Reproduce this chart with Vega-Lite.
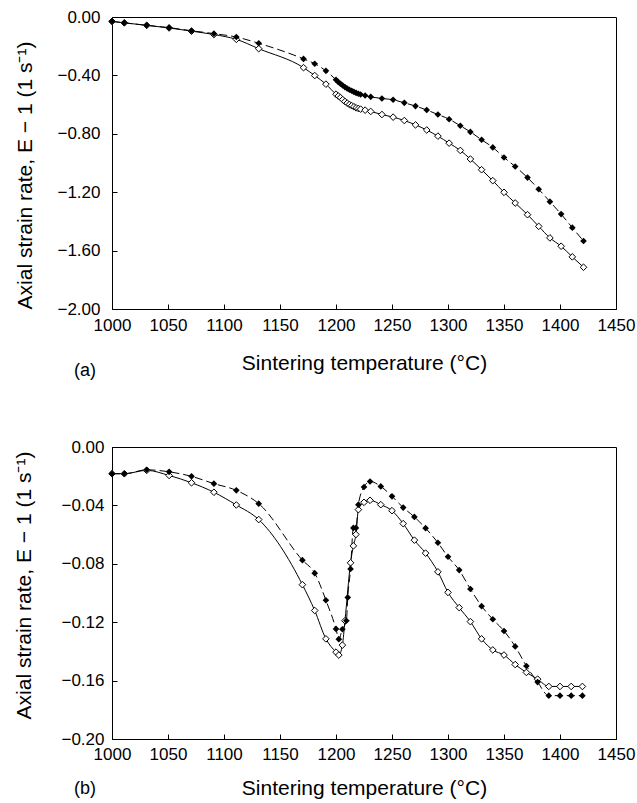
{
  "$schema": "https://vega.github.io/schema/vega-lite/v6.json",
  "padding": {"left": 13, "top": 7, "right": 0, "bottom": 0},
  "background": "white",
  "spacing": 56,
  "config": {
    "font": "Liberation Sans",
    "view": {"stroke": "black", "strokeWidth": 1},
    "axis": {
      "grid": false,
      "domainColor": "black",
      "tickColor": "black",
      "tickSize": -5,
      "labelFontSize": 17,
      "labelColor": "black",
      "titleFontSize": 21,
      "titleFontWeight": "normal",
      "titleColor": "black"
    },
    "title": {"fontSize": 18, "fontWeight": "normal", "color": "black"}
  },
  "datasets": {
    "a": [
      {"T": 1000, "v": -0.03, "s": "filled"},
      {"T": 1011, "v": -0.04, "s": "filled"},
      {"T": 1031, "v": -0.057, "s": "filled"},
      {"T": 1051, "v": -0.073, "s": "filled"},
      {"T": 1071, "v": -0.094, "s": "filled"},
      {"T": 1091, "v": -0.114, "s": "filled"},
      {"T": 1111, "v": -0.137, "s": "filled"},
      {"T": 1131, "v": -0.18, "s": "filled"},
      {"T": 1171, "v": -0.287, "s": "filled"},
      {"T": 1181, "v": -0.32, "s": "filled"},
      {"T": 1191, "v": -0.369, "s": "filled"},
      {"T": 1200, "v": -0.43, "s": "filled"},
      {"T": 1202, "v": -0.445, "s": "filled"},
      {"T": 1204, "v": -0.457, "s": "filled"},
      {"T": 1206, "v": -0.469, "s": "filled"},
      {"T": 1208, "v": -0.48, "s": "filled"},
      {"T": 1210, "v": -0.49, "s": "filled"},
      {"T": 1212, "v": -0.498, "s": "filled"},
      {"T": 1214, "v": -0.505, "s": "filled"},
      {"T": 1216, "v": -0.513, "s": "filled"},
      {"T": 1218, "v": -0.52, "s": "filled"},
      {"T": 1220, "v": -0.526, "s": "filled"},
      {"T": 1222, "v": -0.531, "s": "filled"},
      {"T": 1226, "v": -0.538, "s": "filled"},
      {"T": 1231, "v": -0.547, "s": "filled"},
      {"T": 1241, "v": -0.558, "s": "filled"},
      {"T": 1251, "v": -0.567, "s": "filled"},
      {"T": 1261, "v": -0.588, "s": "filled"},
      {"T": 1271, "v": -0.61, "s": "filled"},
      {"T": 1281, "v": -0.637, "s": "filled"},
      {"T": 1291, "v": -0.668, "s": "filled"},
      {"T": 1301, "v": -0.7, "s": "filled"},
      {"T": 1311, "v": -0.745, "s": "filled"},
      {"T": 1320, "v": -0.787, "s": "filled"},
      {"T": 1330, "v": -0.841, "s": "filled"},
      {"T": 1340, "v": -0.893, "s": "filled"},
      {"T": 1350, "v": -0.962, "s": "filled"},
      {"T": 1360, "v": -1.024, "s": "filled"},
      {"T": 1371, "v": -1.1, "s": "filled"},
      {"T": 1381, "v": -1.18, "s": "filled"},
      {"T": 1391, "v": -1.265, "s": "filled"},
      {"T": 1401, "v": -1.35, "s": "filled"},
      {"T": 1411, "v": -1.443, "s": "filled"},
      {"T": 1421, "v": -1.534, "s": "filled"},
      {"T": 1000, "v": -0.03, "s": "open"},
      {"T": 1011, "v": -0.04, "s": "open"},
      {"T": 1031, "v": -0.057, "s": "open"},
      {"T": 1051, "v": -0.075, "s": "open"},
      {"T": 1071, "v": -0.097, "s": "open"},
      {"T": 1091, "v": -0.12, "s": "open"},
      {"T": 1111, "v": -0.153, "s": "open"},
      {"T": 1131, "v": -0.217, "s": "open"},
      {"T": 1171, "v": -0.347, "s": "open"},
      {"T": 1181, "v": -0.401, "s": "open"},
      {"T": 1191, "v": -0.46, "s": "open"},
      {"T": 1200, "v": -0.529, "s": "open"},
      {"T": 1202, "v": -0.541, "s": "open"},
      {"T": 1204, "v": -0.552, "s": "open"},
      {"T": 1206, "v": -0.566, "s": "open"},
      {"T": 1208, "v": -0.579, "s": "open"},
      {"T": 1210, "v": -0.59, "s": "open"},
      {"T": 1212, "v": -0.599, "s": "open"},
      {"T": 1214, "v": -0.607, "s": "open"},
      {"T": 1216, "v": -0.615, "s": "open"},
      {"T": 1218, "v": -0.622, "s": "open"},
      {"T": 1220, "v": -0.627, "s": "open"},
      {"T": 1222, "v": -0.631, "s": "open"},
      {"T": 1226, "v": -0.638, "s": "open"},
      {"T": 1231, "v": -0.647, "s": "open"},
      {"T": 1241, "v": -0.668, "s": "open"},
      {"T": 1251, "v": -0.686, "s": "open"},
      {"T": 1261, "v": -0.709, "s": "open"},
      {"T": 1271, "v": -0.739, "s": "open"},
      {"T": 1281, "v": -0.774, "s": "open"},
      {"T": 1291, "v": -0.816, "s": "open"},
      {"T": 1301, "v": -0.864, "s": "open"},
      {"T": 1311, "v": -0.914, "s": "open"},
      {"T": 1320, "v": -0.973, "s": "open"},
      {"T": 1330, "v": -1.046, "s": "open"},
      {"T": 1340, "v": -1.121, "s": "open"},
      {"T": 1350, "v": -1.201, "s": "open"},
      {"T": 1360, "v": -1.274, "s": "open"},
      {"T": 1371, "v": -1.354, "s": "open"},
      {"T": 1381, "v": -1.434, "s": "open"},
      {"T": 1391, "v": -1.513, "s": "open"},
      {"T": 1401, "v": -1.57, "s": "open"},
      {"T": 1411, "v": -1.643, "s": "open"},
      {"T": 1421, "v": -1.714, "s": "open"}
    ],
    "b": [
      {"T": 1000, "v": -0.0183, "s": "filled"},
      {"T": 1011, "v": -0.0183, "s": "filled"},
      {"T": 1031, "v": -0.0156, "s": "filled"},
      {"T": 1051, "v": -0.017, "s": "filled"},
      {"T": 1071, "v": -0.0201, "s": "filled"},
      {"T": 1091, "v": -0.0251, "s": "filled"},
      {"T": 1111, "v": -0.0297, "s": "filled"},
      {"T": 1131, "v": -0.0388, "s": "filled"},
      {"T": 1170, "v": -0.0775, "s": "filled"},
      {"T": 1181, "v": -0.0864, "s": "filled"},
      {"T": 1191, "v": -0.105, "s": "filled"},
      {"T": 1200, "v": -0.1246, "s": "filled"},
      {"T": 1202.5, "v": -0.1316, "s": "filled"},
      {"T": 1205.7, "v": -0.1248, "s": "filled"},
      {"T": 1209.3, "v": -0.119, "s": "filled"},
      {"T": 1210.5, "v": -0.103, "s": "filled"},
      {"T": 1213, "v": -0.0836, "s": "filled"},
      {"T": 1215.5, "v": -0.0554, "s": "filled"},
      {"T": 1217.8, "v": -0.0554, "s": "filled"},
      {"T": 1220, "v": -0.0395, "s": "filled"},
      {"T": 1225, "v": -0.0274, "s": "filled"},
      {"T": 1230.4, "v": -0.0236, "s": "filled"},
      {"T": 1240, "v": -0.027, "s": "filled"},
      {"T": 1250, "v": -0.0338, "s": "filled"},
      {"T": 1260, "v": -0.0415, "s": "filled"},
      {"T": 1270, "v": -0.0479, "s": "filled"},
      {"T": 1280, "v": -0.0556, "s": "filled"},
      {"T": 1291, "v": -0.0656, "s": "filled"},
      {"T": 1300, "v": -0.0752, "s": "filled"},
      {"T": 1310, "v": -0.0843, "s": "filled"},
      {"T": 1320, "v": -0.0973, "s": "filled"},
      {"T": 1330, "v": -0.109, "s": "filled"},
      {"T": 1340, "v": -0.118, "s": "filled"},
      {"T": 1350, "v": -0.126, "s": "filled"},
      {"T": 1360, "v": -0.1366, "s": "filled"},
      {"T": 1370, "v": -0.15, "s": "filled"},
      {"T": 1380, "v": -0.161, "s": "filled"},
      {"T": 1390, "v": -0.1703, "s": "filled"},
      {"T": 1400, "v": -0.1703, "s": "filled"},
      {"T": 1410, "v": -0.1703, "s": "filled"},
      {"T": 1420, "v": -0.1703, "s": "filled"},
      {"T": 1000, "v": -0.0183, "s": "open"},
      {"T": 1011, "v": -0.0183, "s": "open"},
      {"T": 1031, "v": -0.016, "s": "open"},
      {"T": 1051, "v": -0.0195, "s": "open"},
      {"T": 1071, "v": -0.0245, "s": "open"},
      {"T": 1091, "v": -0.031, "s": "open"},
      {"T": 1111, "v": -0.0397, "s": "open"},
      {"T": 1131, "v": -0.0497, "s": "open"},
      {"T": 1170, "v": -0.0943, "s": "open"},
      {"T": 1181, "v": -0.112, "s": "open"},
      {"T": 1191, "v": -0.1314, "s": "open"},
      {"T": 1200, "v": -0.1405, "s": "open"},
      {"T": 1202.5, "v": -0.1425, "s": "open"},
      {"T": 1205.7, "v": -0.1357, "s": "open"},
      {"T": 1208, "v": -0.119, "s": "open"},
      {"T": 1213, "v": -0.0793, "s": "open"},
      {"T": 1215.5, "v": -0.0677, "s": "open"},
      {"T": 1217.8, "v": -0.0599, "s": "open"},
      {"T": 1220, "v": -0.0429, "s": "open"},
      {"T": 1225, "v": -0.0379, "s": "open"},
      {"T": 1230.4, "v": -0.0365, "s": "open"},
      {"T": 1240, "v": -0.0395, "s": "open"},
      {"T": 1250, "v": -0.0436, "s": "open"},
      {"T": 1260, "v": -0.0525, "s": "open"},
      {"T": 1270, "v": -0.0638, "s": "open"},
      {"T": 1280, "v": -0.0727, "s": "open"},
      {"T": 1291, "v": -0.0855, "s": "open"},
      {"T": 1300, "v": -0.0996, "s": "open"},
      {"T": 1310, "v": -0.11, "s": "open"},
      {"T": 1320, "v": -0.1196, "s": "open"},
      {"T": 1330, "v": -0.1314, "s": "open"},
      {"T": 1340, "v": -0.139, "s": "open"},
      {"T": 1350, "v": -0.1425, "s": "open"},
      {"T": 1360, "v": -0.149, "s": "open"},
      {"T": 1370, "v": -0.1544, "s": "open"},
      {"T": 1380, "v": -0.159, "s": "open"},
      {"T": 1390, "v": -0.164, "s": "open"},
      {"T": 1400, "v": -0.164, "s": "open"},
      {"T": 1410, "v": -0.164, "s": "open"},
      {"T": 1420, "v": -0.164, "s": "open"}
    ]
  },
  "vconcat": [
    {
      "width": 504,
      "height": 292,
      "data": {"name": "a"},
      "title": {"text": "(a)", "orient": "bottom", "anchor": "start", "frame": "group", "dx": -38, "offset": -11, "fontSize": 18},
      "encoding": {
        "x": {
          "field": "T", "type": "quantitative",
          "scale": {"domain": [1000, 1450], "nice": false, "zero": false},
          "axis": {"values": [1000, 1050, 1100, 1150, 1200, 1250, 1300, 1350, 1400, 1450], "format": "d", "title": "Sintering temperature (°C)", "labelPadding": 13, "titlePadding": 19, "labelFlush": false, "labelOverlap": false}
        },
        "y": {
          "field": "v", "type": "quantitative",
          "scale": {"domain": [-2, 0], "nice": false},
          "axis": {"values": [-2, -1.6, -1.2, -0.8, -0.4, 0], "format": ".2f", "title": "Axial strain rate, E − 1 (1 s⁻¹)", "labelPadding": 17, "titlePadding": 21, "titleY": 158}
        }
      },
      "layer": [
        {"transform": [{"filter": "datum.s == 'open'"}], "mark": {"type": "line", "color": "black", "strokeWidth": 1, "interpolate": "monotone"}},
        {"transform": [{"filter": "datum.s == 'filled'"}], "mark": {"type": "line", "color": "black", "strokeWidth": 1, "strokeDash": [8, 4], "interpolate": "monotone"}},
        {"transform": [{"filter": "datum.s == 'open'"}], "mark": {"type": "point", "shape": "diamond", "size": 44, "filled": true, "fill": "white", "stroke": "black", "strokeWidth": 1, "opacity": 1}},
        {"transform": [{"filter": "datum.s == 'filled'"}], "mark": {"type": "point", "shape": "diamond", "size": 44, "filled": true, "color": "black", "opacity": 1}}
      ]
    },
    {
      "width": 504,
      "height": 292,
      "data": {"name": "b"},
      "title": {"text": "(b)", "orient": "bottom", "anchor": "start", "frame": "group", "dx": -38, "offset": -18, "fontSize": 18},
      "encoding": {
        "x": {
          "field": "T", "type": "quantitative",
          "scale": {"domain": [1000, 1450], "nice": false, "zero": false},
          "axis": {"values": [1000, 1050, 1100, 1150, 1200, 1250, 1300, 1350, 1400, 1450], "format": "d", "title": "Sintering temperature (°C)", "labelPadding": 12, "titlePadding": 15, "labelFlush": false, "labelOverlap": false}
        },
        "y": {
          "field": "v", "type": "quantitative",
          "scale": {"domain": [-0.2, 0], "nice": false},
          "axis": {"values": [-0.2, -0.16, -0.12, -0.08, -0.04, 0], "format": ".2f", "title": "Axial strain rate, E − 1 (1 s⁻¹)", "labelPadding": 13, "titlePadding": 26, "titleY": 138}
        }
      },
      "layer": [
        {"transform": [{"filter": "datum.s == 'open'"}], "mark": {"type": "line", "color": "black", "strokeWidth": 1, "interpolate": "monotone"}},
        {"transform": [{"filter": "datum.s == 'filled'"}], "mark": {"type": "line", "color": "black", "strokeWidth": 1, "strokeDash": [8, 4], "interpolate": "monotone"}},
        {"transform": [{"filter": "datum.s == 'open'"}], "mark": {"type": "point", "shape": "diamond", "size": 44, "filled": true, "fill": "white", "stroke": "black", "strokeWidth": 1, "opacity": 1}},
        {"transform": [{"filter": "datum.s == 'filled'"}], "mark": {"type": "point", "shape": "diamond", "size": 44, "filled": true, "color": "black", "opacity": 1}}
      ]
    }
  ]
}
